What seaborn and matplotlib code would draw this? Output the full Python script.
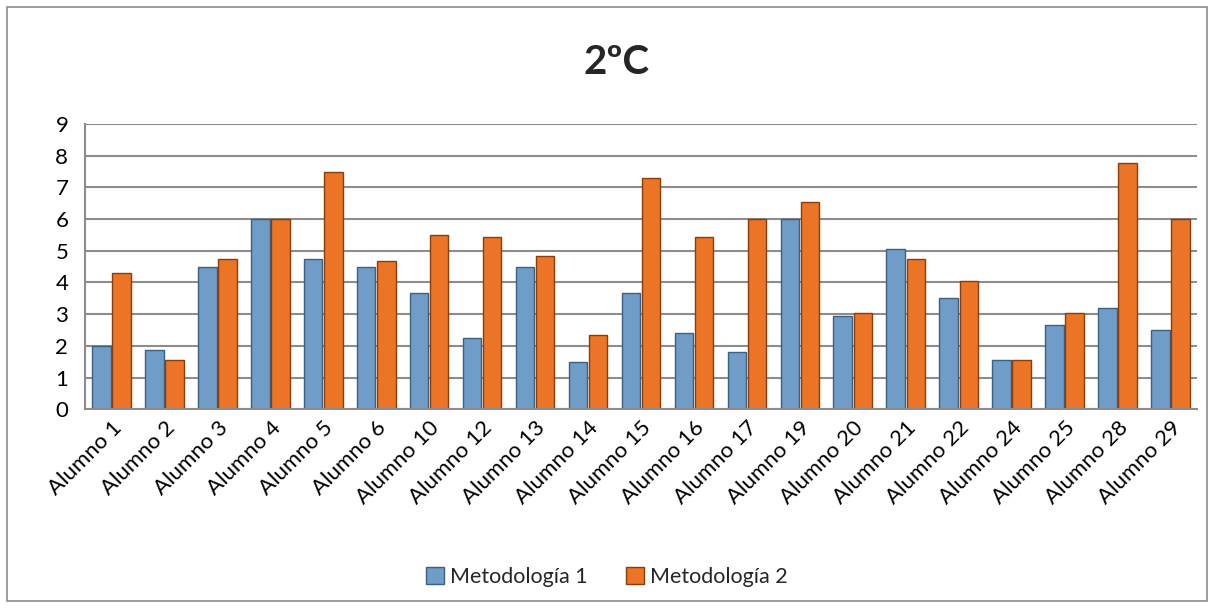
import matplotlib
matplotlib.use('Agg')
import matplotlib.pyplot as plt
import seaborn as sns
import pandas as pd
from matplotlib.patches import Rectangle

alumnos = ['Alumno 1', 'Alumno 2', 'Alumno 3', 'Alumno 4', 'Alumno 5', 'Alumno 6',
           'Alumno 10', 'Alumno 12', 'Alumno 13', 'Alumno 14', 'Alumno 15', 'Alumno 16',
           'Alumno 17', 'Alumno 19', 'Alumno 20', 'Alumno 21', 'Alumno 22', 'Alumno 24',
           'Alumno 25', 'Alumno 28', 'Alumno 29']
metodologia_1 = [2.0, 1.875, 4.5, 6.0, 4.75, 4.5, 3.67, 2.25, 4.5, 1.5, 3.67, 2.4,
                 1.8, 6.0, 2.93, 5.05, 3.5, 1.55, 2.67, 3.18, 2.5]
metodologia_2 = [4.3, 1.55, 4.75, 6.0, 7.5, 4.67, 5.5, 5.45, 4.83, 2.33, 7.3, 5.43,
                 6.0, 6.55, 3.03, 4.73, 4.03, 1.55, 3.03, 7.78, 6.0]
series = ['Metodología 1', 'Metodología 2']

df = pd.DataFrame({
    'alumno': alumnos * 2,
    'valor': metodologia_1 + metodologia_2,
    'serie': [series[0]] * len(alumnos) + [series[1]] * len(alumnos),
})

sns.set_style('white')
plt.rcParams['font.family'] = ['Lato', 'DejaVu Sans']

fig = plt.figure(figsize=(12.14, 6.08), dpi=100)
ax = fig.add_axes([0.070, 0.327, 0.916, 0.469])

colors = {'Metodología 1': '#6f9dc8', 'Metodología 2': '#ec7426'}
edges = {'Metodología 1': '#3d5f80', 'Metodología 2': '#8a3d0c'}

sns.barplot(data=df, x='alumno', y='valor', hue='serie', palette=colors,
            width=0.76, gap=0.08, ax=ax, legend=False, saturation=1)

# darker edges like the Excel bevel
for cont, s in zip(ax.containers, series):
    for bar in cont:
        bar.set_edgecolor(edges[s])
        bar.set_linewidth(1.0)

ax.set_ylim(0, 9)
ax.set_yticks(range(0, 10))
ax.set_xlim(-0.5, len(alumnos) - 0.5)
ax.yaxis.grid(True, color='#8c8c8c', linewidth=1.5)
ax.set_axisbelow(True)
ax.set_xlabel('')
ax.set_ylabel('')
ax.tick_params(axis='both', length=0, labelsize=16, colors='black')
ax.tick_params(axis='y', pad=12)
ax.tick_params(axis='x', pad=6)
plt.setp(ax.get_xticklabels(), rotation=45, ha='right', rotation_mode='anchor')

for side in ['top', 'right']:
    ax.spines[side].set_visible(False)
for side in ['left', 'bottom']:
    ax.spines[side].set_color('#8c8c8c')
    ax.spines[side].set_linewidth(1.5)

fig.text(0.508, 0.898, '2ºC', ha='center', va='center', fontsize=29, fontweight='bold')

handles = [Rectangle((0, 0), 1, 1, facecolor=colors[s], edgecolor=edges[s]) for s in series]
fig.legend(handles, series, loc='center', bbox_to_anchor=(0.5, 0.051), ncol=2,
           frameon=False, fontsize=15.5, handlelength=0.8, handleheight=0.8,
           handletextpad=0.3, columnspacing=1.8)

# outer chart border
fig.patches.append(Rectangle((0.006, 0.012), 0.988, 0.976, transform=fig.transFigure,
                             fill=False, edgecolor='#8c8c8c', linewidth=1.2))

fig.savefig('out.png', dpi=100)
